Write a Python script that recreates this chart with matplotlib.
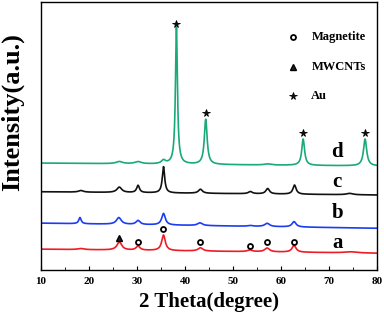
import numpy as np
import matplotlib
matplotlib.use("Agg")
import matplotlib.pyplot as plt

plt.rcParams['font.family'] = ['Liberation Serif', 'DejaVu Serif']
plt.rcParams['font.weight'] = 'bold'

# --- data ---
two_theta = np.linspace(10, 80, 1401)

# baselines (start, end) for each pattern
base_a = (7.8, 6.3)
base_b = (17.5, 15.6)
base_c = (29.2, 28.0)
base_d = (39.9, 38.8)

# peaks: position, height above baseline, half width
peaks_a_pos = [18.3, 26.3, 30.2, 35.5, 43.2, 53.5, 57.1, 62.7, 74.5]
peaks_a_h   = [0.4, 3.0, 1.5, 5.8, 1.2, 0.6, 1.4, 2.5, 0.4]
peaks_a_w   = [0.8, 0.6, 0.5, 0.45, 0.6, 0.6, 0.6, 0.5, 1.5]

peaks_b_pos = [18.1, 26.2, 30.2, 35.5, 43.1, 53.6, 57.1, 62.7]
peaks_b_h   = [2.3, 2.5, 1.5, 4.3, 1.0, 0.3, 1.2, 2.0]
peaks_b_w   = [0.3, 0.6, 0.5, 0.45, 0.6, 0.6, 0.6, 0.5]

peaks_c_pos = [18.3, 26.3, 30.2, 35.5, 43.2, 53.6, 57.2, 62.8, 74.3]
peaks_c_h   = [0.6, 2.0, 2.7, 9.8, 1.5, 0.8, 2.0, 3.4, 0.5]
peaks_c_w   = [0.6, 0.6, 0.35, 0.3, 0.5, 0.5, 0.45, 0.4, 0.8]

peaks_d_pos = [26.3, 30.2, 35.5, 38.2, 44.3, 57.2, 64.6, 77.5]
peaks_d_h   = [0.8, 0.8, 1.3, 51.0, 16.8, 0.4, 9.8, 10.0]
peaks_d_w   = [0.8, 0.8, 0.5, 0.25, 0.35, 0.8, 0.35, 0.4]

# phase markers
magnetite_x = [30.2, 35.5, 43.2, 53.5, 57.0, 62.7]
magnetite_y = [10.4, 15.3, 10.4, 9.0, 10.4, 10.4]
mwcnt_x = [26.3]
mwcnt_y = [12.0]
au_x = [38.2, 44.3, 64.6, 77.5]
au_y = [91.8, 58.6, 51.0, 51.0]

curve_labels = ['a', 'b', 'c', 'd']
curve_label_y = [10.0, 21.4, 32.8, 44.0]
colors = ['#ee1c25', '#1b3cf2', '#111111', '#1aa97a']

legend_names = ['Magnetite', 'MWCNTs', 'Au']


def pattern(base, pos, h, w):
    y = base[0] + (base[1] - base[0]) * (two_theta - 10) / 70
    for p, hh, ww in zip(pos, h, w):
        y = y + hh / (1 + ((two_theta - p) / ww) ** 2)
    return y


curves = [
    pattern(base_a, peaks_a_pos, peaks_a_h, peaks_a_w),
    pattern(base_b, peaks_b_pos, peaks_b_h, peaks_b_w),
    pattern(base_c, peaks_c_pos, peaks_c_h, peaks_c_w),
    pattern(base_d, peaks_d_pos, peaks_d_h, peaks_d_w),
]

fig = plt.figure(figsize=(3.84, 3.17), dpi=100)
ax = fig.add_axes([0.107, 0.148, 0.875, 0.846])

for yv, c in zip(curves, colors):
    ax.plot(two_theta, yv, color=c, lw=1.2)

circ = dict(marker='o', markerfacecolor='white', markeredgewidth=1.3, markersize=3.6)
tri = dict(marker='^', markerfacecolor='#222222', markersize=3.8)
star = dict(marker='*', markerfacecolor='#111111', markeredgewidth=0.6, markersize=5.5)

ax.plot(magnetite_x, magnetite_y, color='black', linestyle='none', **circ)
ax.plot(mwcnt_x, mwcnt_y, color='black', linestyle='none', **tri)
ax.plot(au_x, au_y, color='black', linestyle='none', **star)

for lab, ly in zip(curve_labels, curve_label_y):
    ax.text(71.7, ly, lab, fontsize=15, fontweight='bold', ha='center', va='center')

# legend drawn manually
leg_y = [87.0, 75.9, 65.0]
leg_m = [circ, tri, star]
for name, yy, m in zip(legend_names, leg_y, leg_m):
    ax.plot([62.5], [yy], color='black', linestyle='none', **m)
    ax.text(66.3, yy, name, fontsize=9, fontweight='bold', va='center', ha='left')

ax.set_xlim(10, 80)
ax.set_ylim(0, 100)
ax.set_xticks(np.arange(10, 81, 10))
ax.set_xticks(np.arange(15, 80, 10), minor=True)
ax.set_yticks([])
ax.tick_params(axis='x', which='both', direction='in', labelsize=8, pad=5)
ax.tick_params(axis='x', which='major', length=3)
ax.tick_params(axis='x', which='minor', length=2)
for lbl in ax.get_xticklabels():
    lbl.set_fontweight('bold')
for s in ax.spines.values():
    s.set_linewidth(1.0)

ax.set_xlabel('2 Theta(degree)', fontsize=15, fontweight='bold', labelpad=4)
fig.text(0.032, 0.645, 'Intensity(a.u.)', fontsize=19, fontweight='bold',
         rotation=90, ha='center', va='center')

fig.savefig('out.png', dpi=100)
